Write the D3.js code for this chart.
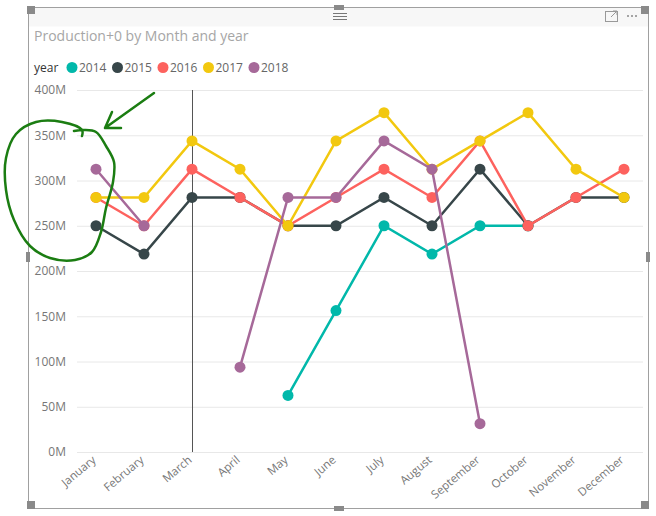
<!DOCTYPE html>
<html><head><meta charset="utf-8">
<script src="https://cdn.jsdelivr.net/npm/d3@7"></script>
<style>
body{margin:0;background:#fff;}
text{font-family:"Segoe UI","Open Sans","Noto Sans",sans-serif;}
</style></head>
<body><svg id="c" width="656" height="516"></svg>
<script>
const months = ["January","February","March","April","May","June","July","August","September","October","November","December"];
const years = ["2014","2015","2016","2017","2018"];
const colors = ["#01B8AA","#374649","#FD625E","#F2C80F","#A66999"];
const v2014 = [null,null,null,null,62.5e6,156.25e6,250e6,218.75e6,250e6,250e6,null,null];
const v2015 = [250e6,218.75e6,281.25e6,281.25e6,250e6,250e6,281.25e6,250e6,312.5e6,250e6,281.25e6,281.25e6];
const v2016 = [281.25e6,250e6,312.5e6,281.25e6,250e6,281.25e6,312.5e6,281.25e6,343.75e6,250e6,281.25e6,312.5e6];
const v2017 = [281.25e6,281.25e6,343.75e6,312.5e6,250e6,343.75e6,375e6,312.5e6,343.75e6,375e6,312.5e6,281.25e6];
const v2018 = [312.5e6,250e6,null,93.75e6,281.25e6,281.25e6,343.75e6,312.5e6,31.25e6,null,null,null];
const seriesValues = [v2014,v2015,v2016,v2017,v2018];
const yTicks = [0,50e6,100e6,150e6,200e6,250e6,300e6,350e6,400e6];
const title = "Production+0 by Month and year";
const legendTitle = "year";
const hoverMonth = "March";

const svg = d3.select("#c");
// frame
svg.append("rect").attr("x",28.5).attr("y",7.5).attr("width",620).attr("height",19).attr("fill","#f7f7f7");
svg.append("rect").attr("x",28.5).attr("y",7.5).attr("width",620).attr("height",501).attr("fill","none").attr("stroke","#a0a0a0").attr("stroke-width",1);
const handles = [[28,7],[648,7],[28,508],[648,508]];
handles.forEach(([hx,hy])=>{
  svg.append("rect").attr("x",hx-(hx>300?7:1)).attr("y",hy-(hy>300?7:1)).attr("width",8).attr("height",8).attr("fill","#8a8a8a");
});
[[334,5,10,5],[334,506,10,5],[26,252,4,10],[646,252,4,10]].forEach(([a,b,w,h])=>svg.append("rect").attr("x",a).attr("y",b).attr("width",w).attr("height",h).attr("fill","#8a8a8a"));
// grip
[13,16,19].forEach(yy=>svg.append("line").attr("x1",333).attr("x2",347).attr("y1",yy+0.5).attr("y2",yy+0.5).attr("stroke","#777"));
// focus icon
svg.append("rect").attr("x",605.5).attr("y",11.5).attr("width",12).attr("height",10).attr("fill","none").attr("stroke","#999");
svg.append("path").attr("d","M611,17 L617,11 M613,11 L617,11 L617,15").attr("fill","none").attr("stroke","#999");
[628,632,636].forEach(cx=>svg.append("circle").attr("cx",cx).attr("cy",16).attr("r",1).attr("fill","#888"));

svg.append("text").attr("x",34).attr("y",41).attr("font-size",14).attr("fill","#a6a6a6").text(title);
// legend
const lg = svg.append("g");
lg.append("text").attr("x",34).attr("y",72).attr("font-size",12).attr("fill","#333").text(legendTitle);
years.forEach((y,i)=>{
  const x0 = 72 + i*45.5;
  lg.append("circle").attr("cx",x0).attr("cy",67.5).attr("r",5.5).attr("fill",colors[i]);
  lg.append("text").attr("x",x0+7).attr("y",72).attr("font-size",12).attr("fill","#666").text(y);
});

const x = d3.scalePoint().domain(months).range([96,624]);
const y = d3.scaleLinear().domain([0,400e6]).range([452,90]);

// grid
const gy = svg.append("g").attr("transform","translate(77,0)")
  .call(d3.axisLeft(y).tickValues(yTicks).tickSize(-566).tickFormat(d=>d/1e6+"M"));
gy.select(".domain").remove();
gy.selectAll(".tick line").attr("stroke","#e8e8e8").attr("stroke-width",1);
gy.selectAll(".tick text").attr("x",-11).attr("font-size",12).attr("fill","#777").attr("font-family",null);

// x axis labels
const gx = svg.append("g").attr("transform","translate(0,452)")
  .call(d3.axisBottom(x).tickSize(0));
gx.select(".domain").remove();
gx.selectAll(".tick text").attr("font-size",11.5).attr("fill","#777").attr("font-family",null)
  .attr("text-anchor","end").attr("transform","translate(-5,3) rotate(-40)").attr("dy","0.7em").attr("y",0);

// hover line
svg.append("line").attr("x1",x(hoverMonth)+0.5).attr("x2",x(hoverMonth)+0.5).attr("y1",y(400e6)).attr("y2",y(0)).attr("stroke","#555").attr("stroke-width",1);

const line = d3.line().defined(d=>d.v!=null).x(d=>x(d.m)).y(d=>y(d.v));
seriesValues.forEach((vals,i)=>{
  const data = vals.map((v,j)=>({m:months[j],v}));
  svg.append("path").datum(data).attr("d",line).attr("fill","none").attr("stroke",colors[i]).attr("stroke-width",2.5);
  svg.append("g").selectAll("circle").data(data.filter(d=>d.v!=null)).join("circle")
    .attr("cx",d=>x(d.m)).attr("cy",d=>y(d.v)).attr("r",5.5).attr("fill",colors[i]);
});

// hand-drawn annotation
const green = "#1b7d12";
svg.append("path").attr("d", d3.line().curve(d3.curveCatmullRom)([[82,136],[82,130],[62,122],[36,122],[16,134],[6,158],[6,190],[14,220],[30,246],[50,258],[75,260],[92,252],[101,232],[106,208],[113,182],[114,162],[106,146],[96,132],[84,130],[74,131]]))
  .attr("fill","none").attr("stroke",green).attr("stroke-width",2.5).attr("stroke-linecap","round");
svg.append("path").attr("d","M154,93 L105,128 M112,112 L105,128 L121,128").attr("fill","none").attr("stroke",green).attr("stroke-width",2.5).attr("stroke-linecap","round").attr("stroke-linejoin","round");
</script></body></html>
